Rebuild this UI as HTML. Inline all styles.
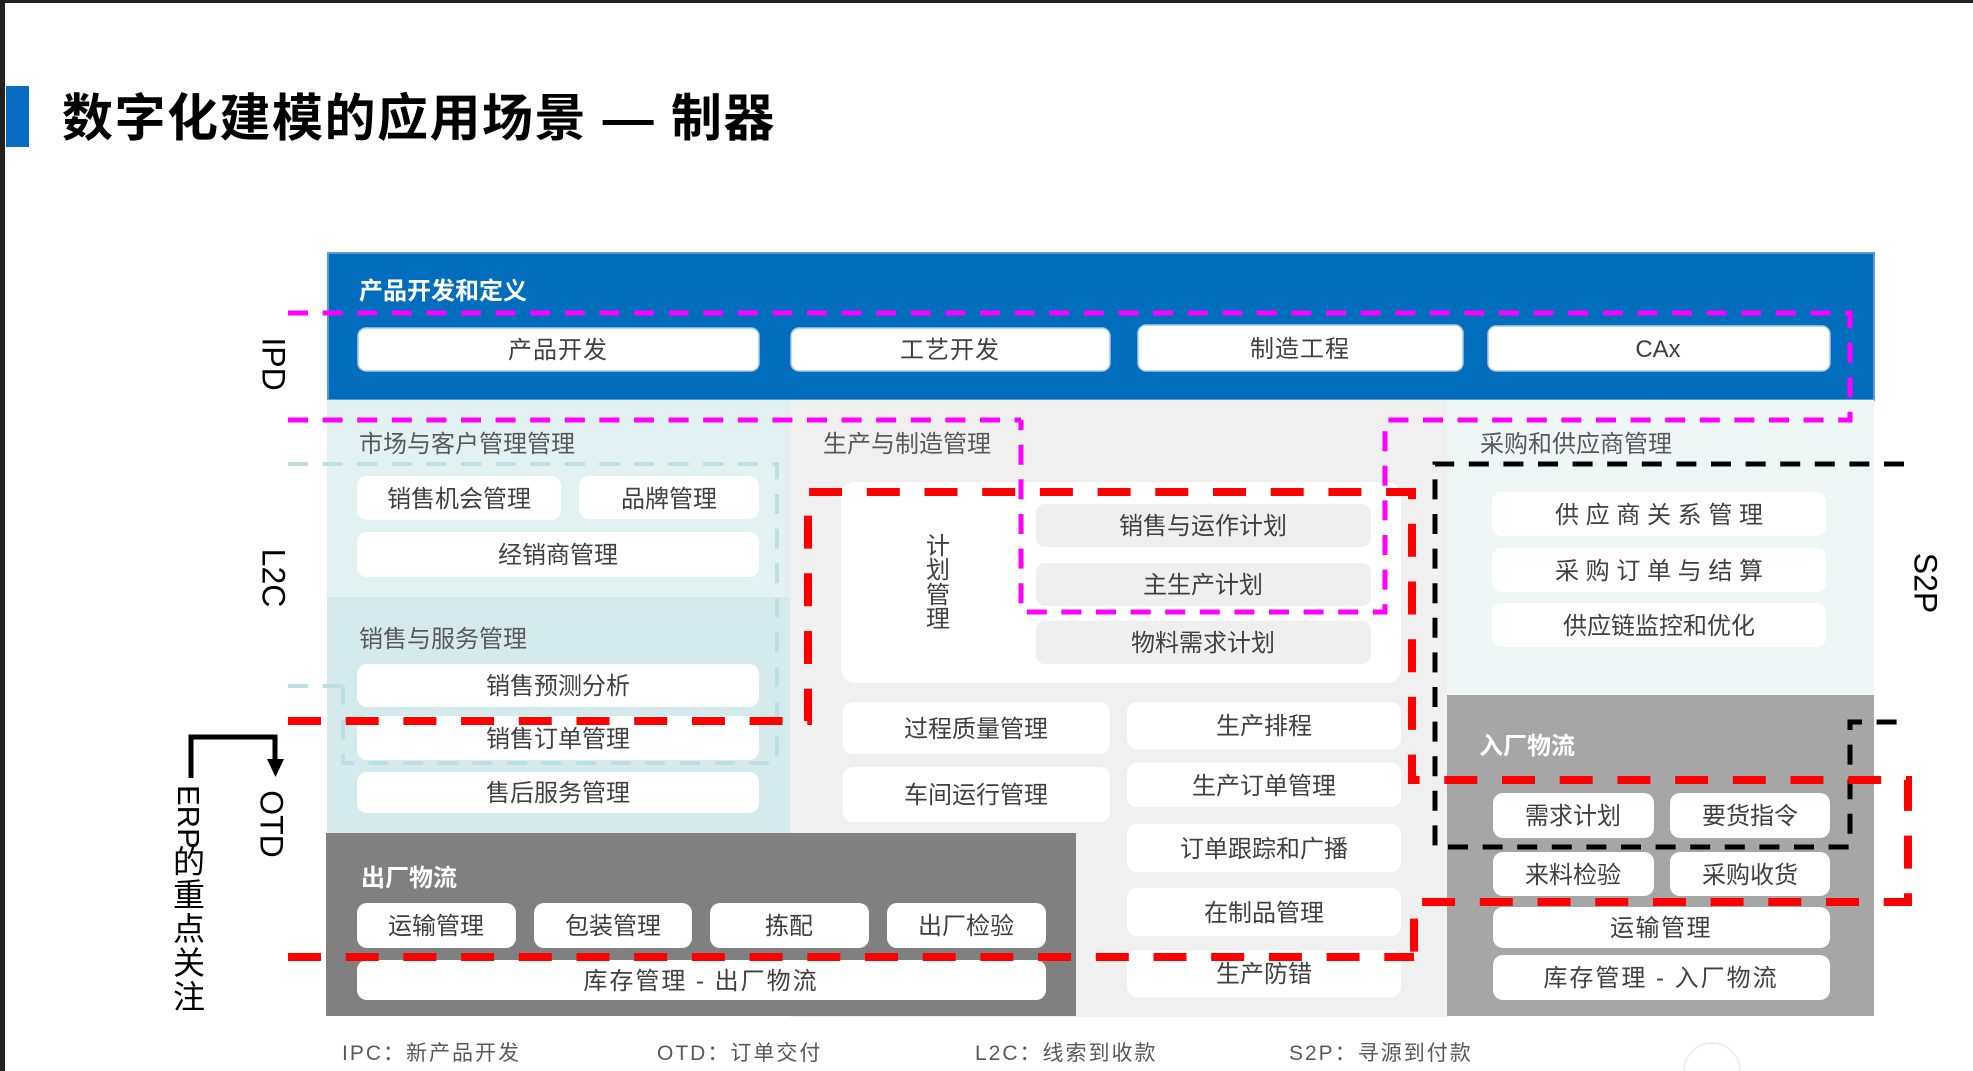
<!DOCTYPE html>
<html>
<head>
<meta charset="utf-8">
<style>
  html,body{margin:0;padding:0;background:#fff;}
  body{width:1973px;height:1071px;overflow:hidden;position:relative;}
  svg{position:absolute;left:0;top:0;}
  .t{font-family:"Liberation Sans","Noto Sans CJK SC",sans-serif;font-size:24px;fill:#404040;text-anchor:middle;}
  .s{font-family:"Liberation Sans","Noto Sans CJK SC",sans-serif;font-size:24px;fill:#595959;}
  .w{font-family:"Liberation Sans","Noto Sans CJK SC",sans-serif;font-size:24px;fill:#ffffff;font-weight:bold;}
  .lab{font-family:"Liberation Sans","Noto Sans CJK SC",sans-serif;font-size:32px;fill:#000;text-anchor:middle;}
  .leg{font-family:"Liberation Sans","Noto Sans CJK SC",sans-serif;font-size:21px;fill:#595959;letter-spacing:2px;}
</style>
</head>
<body>
<svg width="1973" height="1071" viewBox="0 0 1973 1071" xmlns="http://www.w3.org/2000/svg">
  <!-- frame -->
  <rect x="0" y="0" width="1973" height="1071" fill="#ffffff"/>
  <rect x="0" y="0" width="1973" height="3" fill="#222"/>
  <rect x="0" y="0" width="5" height="1071" fill="#222"/>

  <!-- title -->
  <rect x="6" y="86" width="23" height="61" fill="#0a6cc0"/>
  <text x="62" y="136" style="font-family:'Liberation Sans','Noto Sans CJK SC',sans-serif;font-size:51px;font-weight:bold;fill:#000;letter-spacing:1.5px;">数字化建模的应用场景 — 制器</text>

  <!-- blue band -->
  <rect x="328" y="253" width="1546" height="147" fill="#006dbd" stroke="#5b9bd5" stroke-width="2"/>
  <text class="w" x="359" y="299">产品开发和定义</text>
  <rect x="358" y="328" width="401" height="43" rx="8" fill="#fff" stroke="#a9c9ea" stroke-width="1.5"/>
  <rect x="791" y="328" width="319" height="43" rx="8" fill="#fff" stroke="#a9c9ea" stroke-width="1.5"/>
  <rect x="1138" y="325" width="325" height="46" rx="8" fill="#fff" stroke="#a9c9ea" stroke-width="1.5"/>
  <rect x="1488" y="326" width="342" height="45" rx="8" fill="#fff" stroke="#a9c9ea" stroke-width="1.5"/>
  <text class="t" x="558" y="358" style="letter-spacing:1px">产品开发</text>
  <text class="t" x="950" y="358" style="letter-spacing:1px">工艺开发</text>
  <text class="t" x="1300" y="357" style="letter-spacing:1px">制造工程</text>
  <text class="t" x="1658" y="357">CAx</text>

  <!-- market & customer -->
  <rect x="327" y="400" width="463" height="197" fill="#e2f1f2"/>
  <rect x="327" y="597" width="463" height="236" fill="#d5eaed"/>
  <text class="s" x="359" y="452">市场与客户管理管理</text>
  <rect x="357" y="476" width="204" height="44" rx="10" fill="#fff"/>
  <rect x="579" y="476" width="180" height="43" rx="10" fill="#fff"/>
  <rect x="357" y="532" width="402" height="45" rx="10" fill="#fff"/>
  <text class="t" x="459" y="507">销售机会管理</text>
  <text class="t" x="669" y="507">品牌管理</text>
  <text class="t" x="558" y="563">经销商管理</text>
  <text class="s" x="359" y="647">销售与服务管理</text>
  <rect x="357" y="664" width="402" height="43" rx="10" fill="#fff"/>
  <rect x="357" y="716" width="402" height="44" rx="10" fill="#fff"/>
  <rect x="357" y="772" width="402" height="41" rx="10" fill="#fff"/>
  <text class="t" x="558" y="694">销售预测分析</text>
  <text class="t" x="558" y="747">销售订单管理</text>
  <text class="t" x="558" y="801">售后服务管理</text>

  <!-- production -->
  <rect x="790" y="400" width="657" height="617" fill="#f0f0f0"/>
  <text class="s" x="823" y="452">生产与制造管理</text>
  <rect x="841" y="482" width="560" height="201" rx="14" fill="#fff"/>
  <text class="t" x="938" y="554">计</text>
  <text class="t" x="938" y="578">划</text>
  <text class="t" x="938" y="603">管</text>
  <text class="t" x="938" y="627">理</text>
  <rect x="1036" y="504" width="335" height="43" rx="9" fill="#efefef"/>
  <rect x="1036" y="563" width="335" height="43" rx="9" fill="#efefef"/>
  <rect x="1036" y="621" width="335" height="43" rx="9" fill="#efefef"/>
  <text class="t" x="1203" y="534">销售与运作计划</text>
  <text class="t" x="1203" y="593">主生产计划</text>
  <text class="t" x="1203" y="651">物料需求计划</text>

  <rect x="843" y="702" width="267" height="52" rx="10" fill="#fff"/>
  <rect x="843" y="767" width="267" height="55" rx="10" fill="#fff"/>
  <text class="t" x="976" y="737">过程质量管理</text>
  <text class="t" x="976" y="803">车间运行管理</text>
  <rect x="1127" y="702" width="274" height="47" rx="10" fill="#fff"/>
  <rect x="1127" y="763" width="274" height="44" rx="10" fill="#fff"/>
  <rect x="1127" y="824" width="274" height="48" rx="10" fill="#fff"/>
  <rect x="1127" y="888" width="274" height="48" rx="10" fill="#fff"/>
  <rect x="1127" y="950" width="274" height="47" rx="10" fill="#fff"/>
  <text class="t" x="1264" y="734">生产排程</text>
  <text class="t" x="1264" y="794">生产订单管理</text>
  <text class="t" x="1264" y="857">订单跟踪和广播</text>
  <text class="t" x="1264" y="921">在制品管理</text>
  <text class="t" x="1264" y="982">生产防错</text>

  <!-- outbound logistics -->
  <rect x="326" y="833" width="750" height="183" fill="#808080"/>
  <text class="w" x="361" y="886">出厂物流</text>
  <rect x="357" y="903" width="159" height="45" rx="10" fill="#fff"/>
  <rect x="534" y="903" width="158" height="45" rx="10" fill="#fff"/>
  <rect x="710" y="903" width="159" height="45" rx="10" fill="#fff"/>
  <rect x="887" y="903" width="159" height="45" rx="10" fill="#fff"/>
  <rect x="357" y="960" width="689" height="40" rx="10" fill="#fff"/>
  <text class="t" x="436" y="934">运输管理</text>
  <text class="t" x="613" y="934">包装管理</text>
  <text class="t" x="789" y="934">拣配</text>
  <text class="t" x="966" y="934">出厂检验</text>
  <text class="t" x="701" y="989" style="letter-spacing:2px">库存管理 - 出厂物流</text>

  <!-- procurement -->
  <rect x="1447" y="400" width="427" height="295" fill="#eef6f6"/>
  <text class="s" x="1480" y="452">采购和供应商管理</text>
  <rect x="1492" y="492" width="334" height="44" rx="10" fill="#fff"/>
  <rect x="1492" y="548" width="334" height="44" rx="10" fill="#fff"/>
  <rect x="1492" y="603" width="334" height="44" rx="10" fill="#fff"/>
  <text class="t" x="1659" y="523">供 应 商 关 系 管 理</text>
  <text class="t" x="1659" y="579">采 购 订 单 与 结 算</text>
  <text class="t" x="1659" y="634">供应链监控和优化</text>

  <!-- inbound logistics -->
  <rect x="1447" y="695" width="427" height="321" fill="#a6a6a6"/>
  <text class="w" x="1479" y="754">入厂物流</text>
  <rect x="1493" y="793" width="161" height="45" rx="10" fill="#fff"/>
  <rect x="1670" y="793" width="160" height="45" rx="10" fill="#fff"/>
  <rect x="1493" y="852" width="161" height="44" rx="10" fill="#fff"/>
  <rect x="1670" y="852" width="160" height="44" rx="10" fill="#fff"/>
  <rect x="1493" y="907" width="337" height="41" rx="10" fill="#fff"/>
  <rect x="1493" y="955" width="337" height="45" rx="10" fill="#fff"/>
  <text class="t" x="1573" y="824">需求计划</text>
  <text class="t" x="1750" y="824">要货指令</text>
  <text class="t" x="1573" y="883">来料检验</text>
  <text class="t" x="1750" y="883">采购收货</text>
  <text class="t" x="1661" y="936" style="letter-spacing:1.5px">运输管理</text>
  <text class="t" x="1661" y="986" style="letter-spacing:2px">库存管理 - 入厂物流</text>

  <!-- side labels -->
  <text class="lab" transform="translate(262.5,364) rotate(90)">IPD</text>
  <text class="lab" transform="translate(262.5,578) rotate(90)">L2C</text>
  <text class="lab" transform="translate(260.5,824) rotate(90)">OTD</text>
  <text class="lab" transform="translate(1914.5,583) rotate(90)">S2P</text>

  <!-- ERP label -->
  <text class="lab" style="text-anchor:start;font-size:31px" transform="translate(178,785) rotate(90)">ERP</text>
  <text class="lab" x="189" y="873">的</text>
  <text class="lab" x="189" y="906">重</text>
  <text class="lab" x="189" y="940">点</text>
  <text class="lab" x="189" y="974">关</text>
  <text class="lab" x="189" y="1008">注</text>

  <!-- bracket arrow -->
  <path d="M191,778 V737 H275 V762" fill="none" stroke="#000" stroke-width="5"/>
  <polygon points="267,759 284,759 275.5,777" fill="#000"/>

  <!-- legend -->
  <text class="leg" x="342" y="1060">IPC：新产品开发</text>
  <text class="leg" x="657" y="1060">OTD：订单交付</text>
  <text class="leg" x="975" y="1060">L2C：线索到收款</text>
  <text class="leg" x="1289" y="1060">S2P：寻源到付款</text>

  <!-- faint watermark -->
  <circle cx="1712" cy="1071" r="28" fill="none" stroke="#eee" stroke-width="2"/>

  <!-- dashed outlines -->
  <g fill="none">
    <!-- cyan L2C -->
    <path d="M288,464 H777 V763 H343 V686" stroke="#bcdfe2" stroke-width="4" stroke-dasharray="20 14.6"/>
    <path d="M288,686 H343" stroke="#bcdfe2" stroke-width="4" stroke-dasharray="20 14.6"/>
    <!-- magenta IPD -->
    <path d="M288,313 H1850 V420 H1385 V612 H1021 V420" stroke="#ff00ff" stroke-width="5" stroke-dasharray="20 14.6"/>
    <path d="M288,420 H1021" stroke="#ff00ff" stroke-width="5" stroke-dasharray="20 14.6"/>
    <!-- black S2P -->
    <path d="M1904,464 H1435 V847 H1850 V722 H1904" stroke="#000" stroke-width="5" stroke-dasharray="20 14.6"/>
    <!-- red OTD -->
    <path d="M288,721 H808 V492 H1412 V780 H1908 V902 H1414 V957" stroke="#ff0000" stroke-width="8" stroke-dasharray="33 24.7"/>
    <path d="M288,957 H1414" stroke="#ff0000" stroke-width="8" stroke-dasharray="33 24.7"/>
  </g>
</svg>
</body>
</html>
